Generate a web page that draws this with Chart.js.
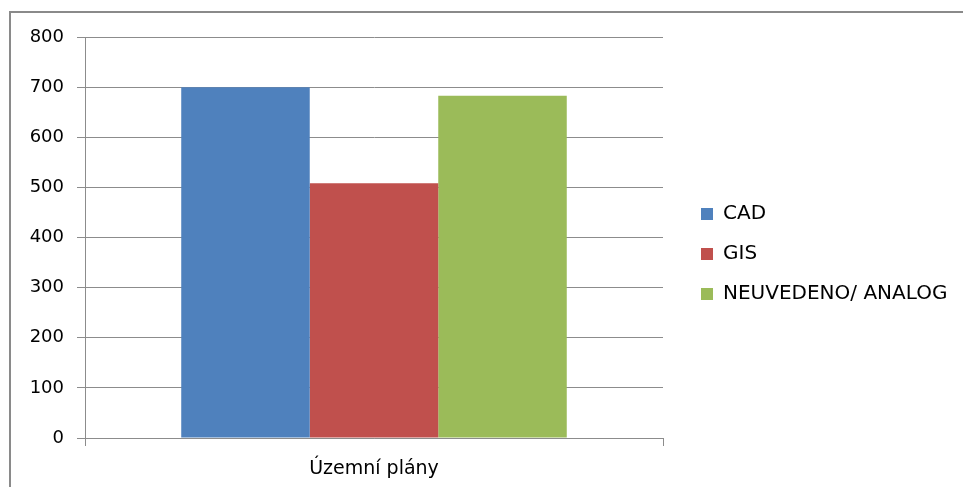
<!DOCTYPE html>
<html>
<head>
<meta charset="utf-8">
<script src="https://cdn.jsdelivr.net/npm/chart.js@4.4.1/dist/chart.umd.min.js"></script>
<style>
  html, body { margin: 0; padding: 0; background: #fff; }
  #wrap { position: relative; width: 963px; height: 487px; overflow: hidden; }
  #frame { position: absolute; left: 9px; top: 11px; width: 970px; height: 490px;
           border-top: 2px solid #8a8a8a; border-left: 2px solid #8a8a8a; }
  canvas { position: absolute; left: 0; top: 0; }
</style>
</head>
<body>
<div id="wrap">
  <div id="frame"></div>
  <canvas id="myChart" width="963" height="487"></canvas>
</div>
<script>
const categories = ["Územní plány"];
const seriesNames = ["CAD", "GIS", "NEUVEDENO/ ANALOG"];
const cadValues = [700];
const gisValues = [508];
const analogValues = [683];
const yTicks = [0, 100, 200, 300, 400, 500, 600, 700, 800];

const colors = {
  blue: "#4f81bd",
  red: "#c0504d",
  green: "#9bbb59",
  grid: "#8c8c8c",
};

const LEGEND_WIDTH = 282;

// the layout caps the legend at a quarter of the canvas, so widen it after fit
const wideLegend = {
  id: "wideLegend",
  beforeInit(chart) {
    const legend = chart.legend;
    const fit = legend.fit;
    legend.fit = function () {
      fit.call(this);
      this.width = LEGEND_WIDTH;
    };
  },
};

const ctx = document.getElementById("myChart").getContext("2d");

const data = {
  labels: categories,
  datasets: [
    { label: seriesNames[0], data: cadValues, backgroundColor: colors.blue },
    { label: seriesNames[1], data: gisValues, backgroundColor: colors.red },
    { label: seriesNames[2], data: analogValues, backgroundColor: colors.green },
  ],
};

const config = {
  type: "bar",
  data: data,
  plugins: [wideLegend],
  options: {
    responsive: false,
    animation: false,
    layout: { padding: { left: 10, top: 37, right: 0, bottom: 0 } },
    datasets: {
      bar: { categoryPercentage: 0.667, barPercentage: 1.0, borderWidth: 0 },
    },
    plugins: {
      tooltip: { enabled: false },
      legend: {
        position: "right",
        align: "start",
        // empty title only used as top spacer for the legend column
        title: { display: true, text: "", padding: { top: 135, bottom: 0 }, font: { size: 10 } },
        labels: {
          boxWidth: 12,
          boxHeight: 12,
          padding: 20,
          color: "#000",
          font: { family: "DejaVu Sans", size: 20 },
        },
      },
    },
    scales: {
      x: {
        afterFit: (axis) => { axis.height = 49; },
        grid: {
          drawOnChartArea: false,
          tickLength: 8,
          color: colors.grid,
        },
        border: { color: colors.grid },
        ticks: {
          color: "#000",
          padding: 12,
          font: { family: "DejaVu Sans", size: 19 },
        },
      },
      y: {
        min: 0,
        max: 800,
        afterFit: (axis) => { axis.width = 75; },
        afterBuildTicks: (axis) => { axis.ticks = yTicks.map((v) => ({ value: v })); },
        grid: { color: colors.grid, tickLength: 8 },
        border: { color: colors.grid },
        ticks: {
          color: "#000",
          padding: 13,
          font: { family: "DejaVu Sans", size: 18 },
        },
      },
      // empty right axis, only keeps a gap between plot and legend
      gap: {
        type: "linear",
        position: "right",
        afterFit: (axis) => { axis.width = 18; },
        grid: { display: false },
        border: { display: false },
        ticks: { display: false },
      },
    },
  },
};

const myChart = new Chart(ctx, config);
</script>
</body>
</html>
